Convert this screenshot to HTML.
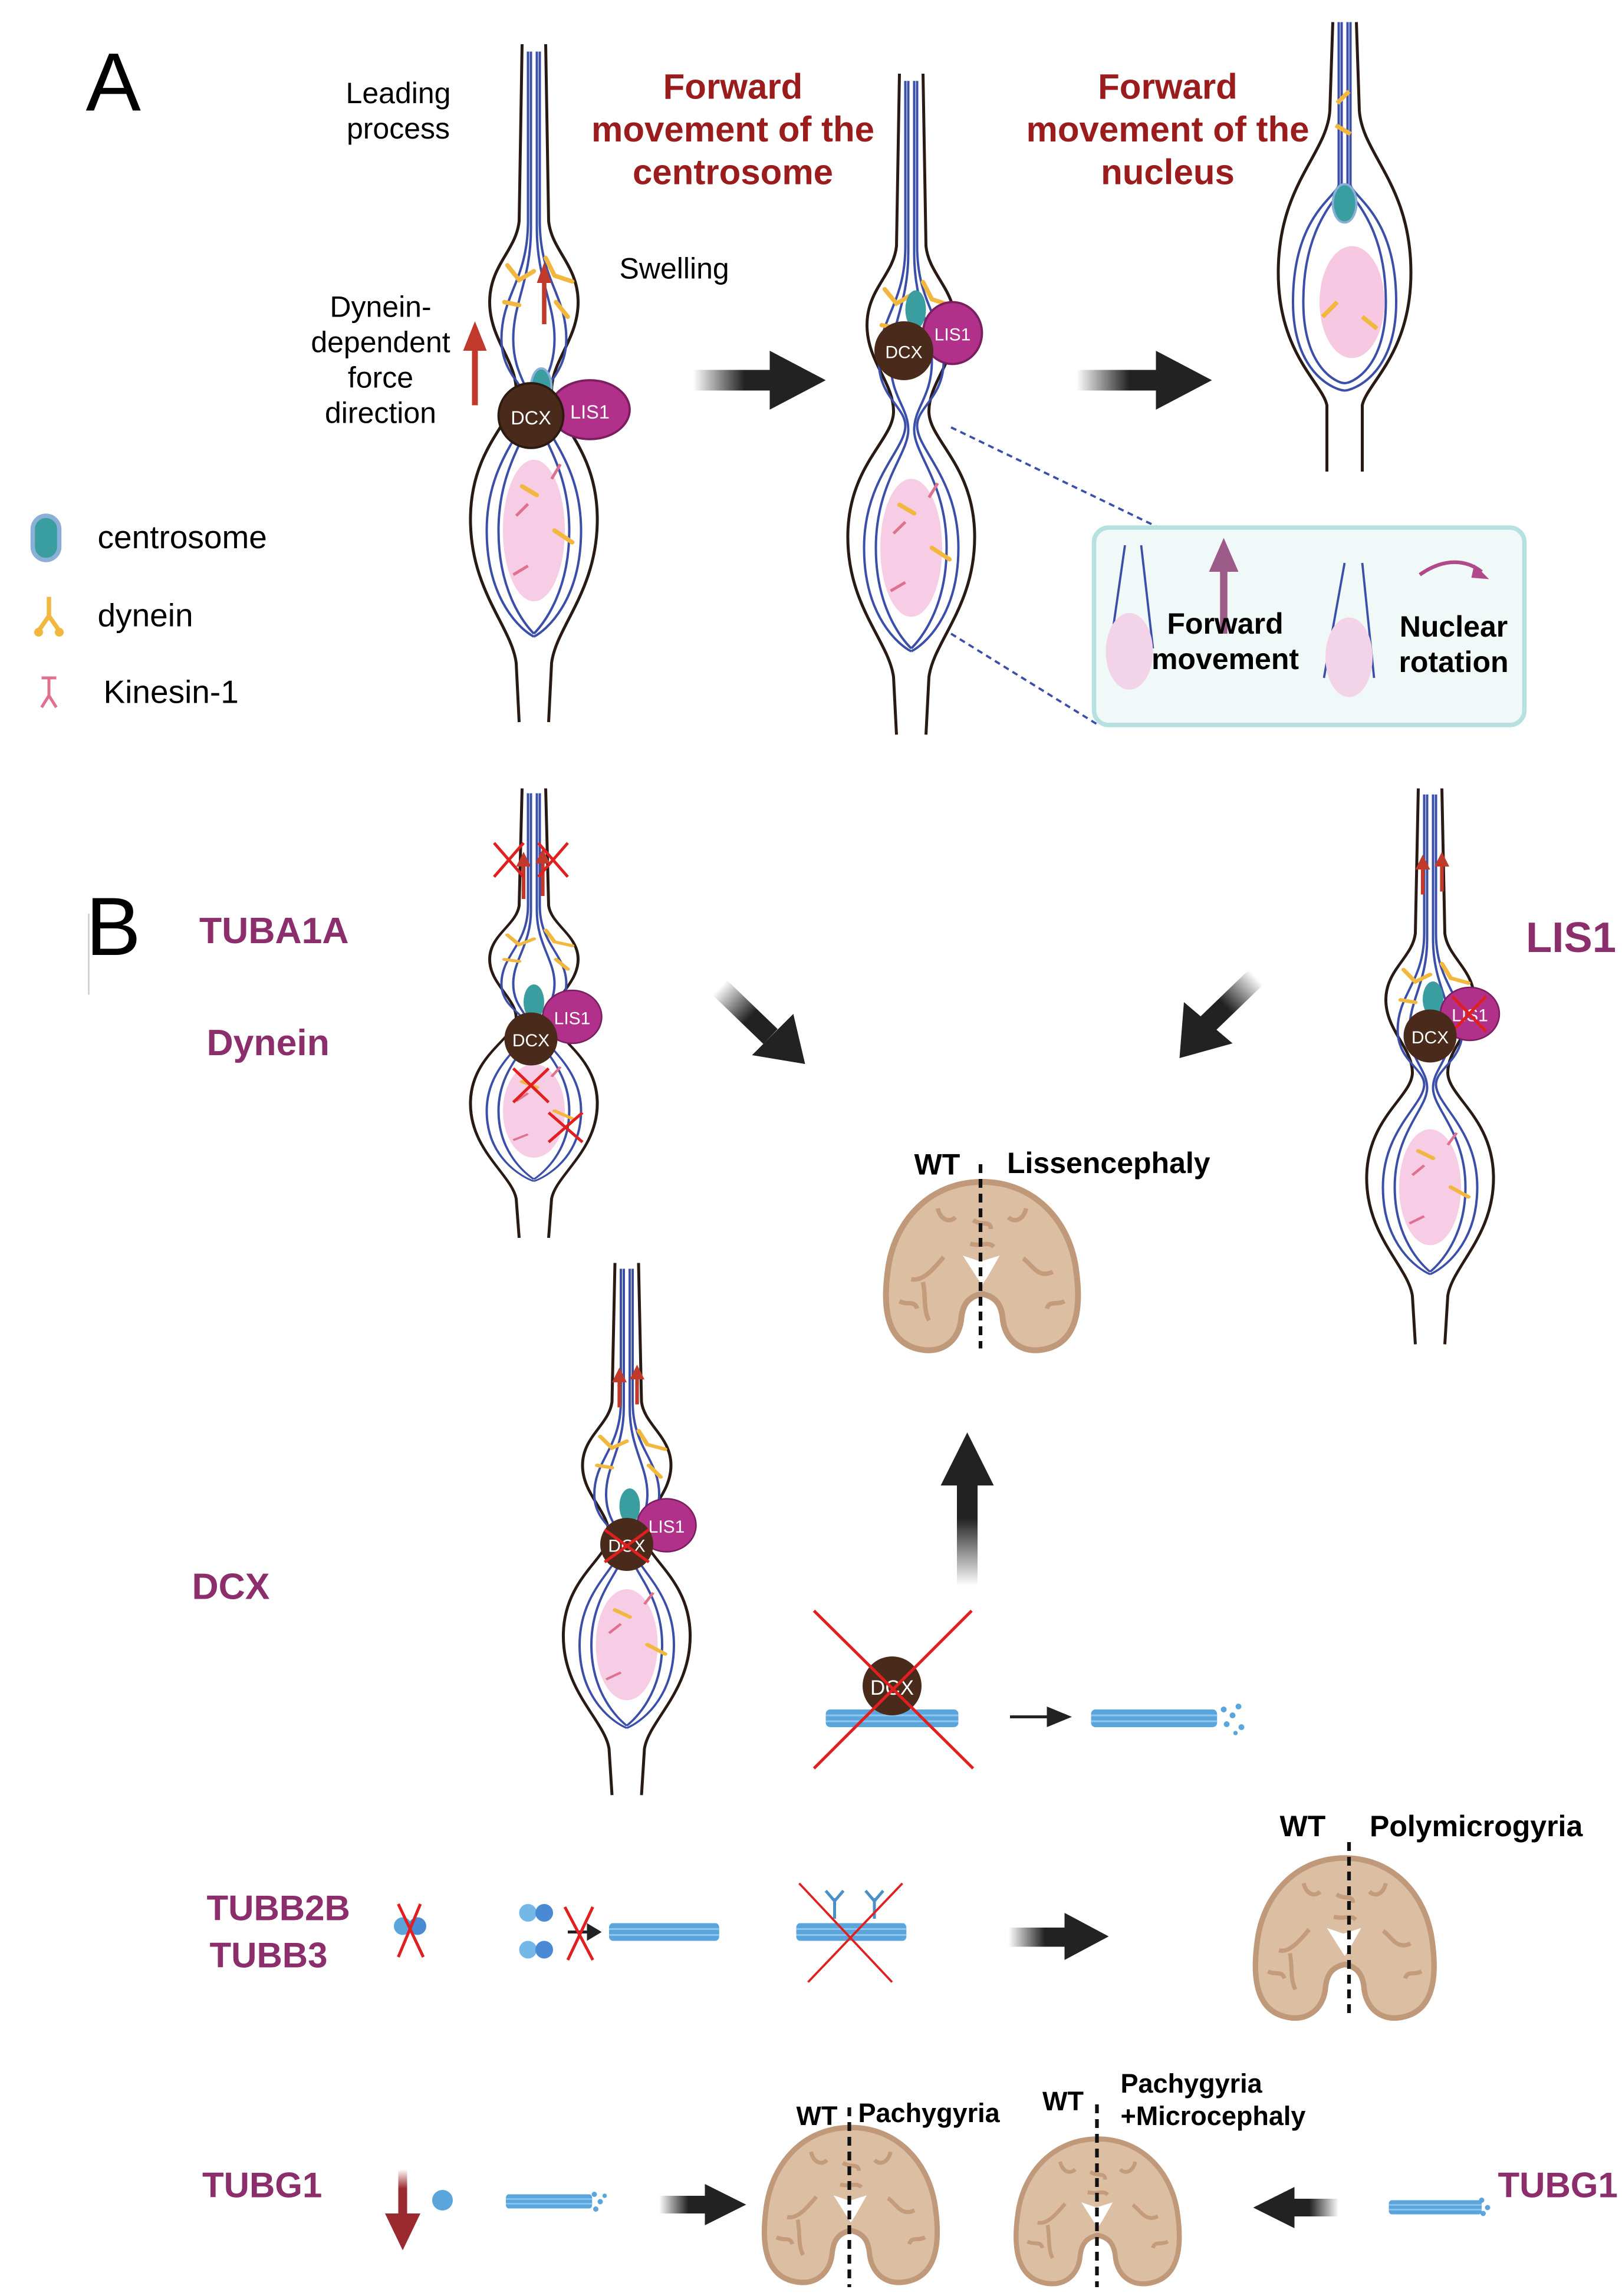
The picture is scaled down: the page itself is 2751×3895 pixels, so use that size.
<!DOCTYPE html>
<html><head><meta charset="utf-8"><style>
html,body{margin:0;padding:0;background:#fff;}
svg{display:block;}
text{font-family:"Liberation Sans",sans-serif;}
</style></head><body>
<svg width="2751" height="3895" viewBox="0 0 1100 1558" xmlns="http://www.w3.org/2000/svg">
<defs>
<linearGradient id="ga" x1="0" x2="1" y1="0" y2="0"><stop offset="0" stop-color="#222" stop-opacity="0"/><stop offset="0.6" stop-color="#222"/></linearGradient>
<linearGradient id="gl" x1="1" x2="0" y1="0" y2="0"><stop offset="0" stop-color="#222" stop-opacity="0"/><stop offset="0.6" stop-color="#222"/></linearGradient>
<linearGradient id="gu" x1="0" x2="0" y1="1" y2="0"><stop offset="0" stop-color="#222" stop-opacity="0"/><stop offset="0.6" stop-color="#222"/></linearGradient>
<linearGradient id="gd" x1="0" x2="0" y1="0" y2="1"><stop offset="0" stop-color="#9b2a30" stop-opacity="0"/><stop offset="0.4" stop-color="#9b2a30"/></linearGradient>
<g id="half">
 <path d="M-8,0 L-10,120 C-12,140 -30,150 -30,175 C-30,200 -12,215 -12,235 C-12,255 -42,272 -43,320 C-44,370 -15,395 -12,420 L-10,460" fill="none" stroke="#2a1a14" stroke-width="2"/>
 <path d="M-4,5 L-4,120 C-4,160 -22,170 -22,200 C-22,225 -4,232 -4,245 C-4,262 -32,282 -32,330 C-32,378 -8,398 0,402" fill="none" stroke="#3b4fa8" stroke-width="1.6"/>
 <path d="M-2,5 L-2,125 C-2,160 -14,175 -14,200 C-14,225 -2,232 -2,248 C-2,265 -24,285 -24,330 C-24,372 -6,394 0,400" fill="none" stroke="#3b4fa8" stroke-width="1.6"/>
</g>
<g id="neuron">
 <use href="#half"/><use href="#half" transform="scale(-1,1)"/>
 <ellipse cx="0" cy="330" rx="21" ry="48" fill="#f6c8e2" opacity="0.9"/>
 <path d="M-18,150 l8,10 l10,-6 M8,145 l6,12 l12,4 M-20,175 l10,2 M15,175 l8,10 M-8,300 l10,6 M14,330 l12,8" stroke="#f2b73e" stroke-width="3" fill="none" stroke-linecap="round"/>
 <path d="M-12,320 l8,-8 M-14,360 l10,-6 M12,295 l6,-10" stroke="#e07090" stroke-width="2" fill="none"/>
</g>
<g id="brain">
 <path d="M70,4 C35,4 10,30 6,65 C2,95 8,115 30,118 C45,120 55,110 56,96 C57,88 60,82 70,80 C80,82 83,88 84,96 C85,110 95,120 110,118 C132,115 138,95 134,65 C130,30 105,4 70,4 Z" fill="#dcbea3" stroke="#c0987a" stroke-width="4"/>
 <path d="M22,70 C30,72 38,62 44,55 M30,72 C32,82 30,90 34,98 M118,65 C108,70 104,60 98,56 M40,22 C42,30 48,32 52,28 M100,22 C98,30 92,32 88,28 M64,30 C70,34 76,30 76,36 M62,46 C70,48 74,44 78,48 M14,85 C20,88 24,84 26,90 M126,85 C120,88 116,84 114,90" stroke="#c49b7b" stroke-width="3" fill="none"/>
 <path d="M57,54 L69,58 L82,54 L74,68 L70,74 L66,68 Z" fill="#fff"/>
</g>
<g id="mt">
 <rect x="0" y="0" width="90" height="12" rx="3" fill="#5aa6dc"/>
 <path d="M0,4 H90 M0,8 H90" stroke="#8fc6ee" stroke-width="1.2"/>
</g>
</defs>
<rect width="1100" height="1558" fill="#fff"/>

<!-- Panel A -->
<text x="58" y="75" font-size="56">A</text>
<text x="270" y="70" font-size="20" text-anchor="middle">Leading</text>
<text x="270" y="94" font-size="20" text-anchor="middle">process</text>
<g font-size="24" font-weight="bold" fill="#9b1c1c" text-anchor="middle">
<text x="497" y="67">Forward</text><text x="497" y="96">movement of the</text><text x="497" y="125">centrosome</text>
<text x="792" y="67">Forward</text><text x="792" y="96">movement of the</text><text x="792" y="125">nucleus</text>
</g>
<text x="420" y="189" font-size="20">Swelling</text>
<g font-size="20" text-anchor="middle"><text x="258" y="215">Dynein-</text><text x="258" y="239">dependent</text><text x="258" y="263">force</text><text x="258" y="287">direction</text></g>
<path d="M322,275 V235" stroke="#c0392b" stroke-width="4"/><path d="M314,238 L322,218 L330,238 Z" fill="#c0392b"/>

<use href="#neuron" transform="translate(362,30)"/>
<path d="M369,220 V190" stroke="#c0392b" stroke-width="3"/><path d="M364,192 L369,178 L374,192 Z" fill="#c0392b"/>
<ellipse cx="367" cy="263" rx="7" ry="13" fill="#3a9ea0" stroke="#8ab0d8" stroke-width="1.5"/>
<ellipse cx="400" cy="278" rx="27" ry="20" fill="#b0308a" stroke="#7a1e60" stroke-width="1.5"/>
<text x="400" y="284" font-size="13" fill="#fff" text-anchor="middle">LIS1</text>
<circle cx="360" cy="282" r="22" fill="#4a2a1a" stroke="#2a1a10" stroke-width="1.5"/>
<text x="360" y="288" font-size="13" fill="#fff" text-anchor="middle">DCX</text>

<use href="#neuron" transform="translate(618,50) scale(1,0.975)"/>
<ellipse cx="621" cy="210" rx="7" ry="13" fill="#3a9ea0"/>
<ellipse cx="646" cy="226" rx="20" ry="21" fill="#b0308a" stroke="#7a1e60" stroke-width="1.5"/>
<text x="646" y="231" font-size="12" fill="#fff" text-anchor="middle">LIS1</text>
<circle cx="613" cy="238" r="20" fill="#4a2a1a"/>
<text x="613" y="243" font-size="12" fill="#fff" text-anchor="middle">DCX</text>

<g transform="translate(912,15)">
<path d="M-8,0 L-10,60 C-12,90 -45,110 -45,170 C-45,225 -15,245 -12,260 L-12,305 M8,0 L10,60 C12,90 45,110 45,170 C45,225 15,245 12,260 L12,305" fill="none" stroke="#2a1a14" stroke-width="2"/>
<path d="M-4,0 V110 C-4,118 -35,130 -35,190 C-35,240 -5,250 0,250 C5,250 35,240 35,190 C35,130 4,118 4,110 V0 M-2,0 V112 C-2,118 -28,135 -28,190 C-28,235 -5,245 0,245 C5,245 28,235 28,190 C28,135 2,118 2,112 V0" fill="none" stroke="#3b4fa8" stroke-width="1.6"/>
<ellipse cx="5" cy="190" rx="22" ry="38" fill="#f6c8e2"/>
<ellipse cx="0" cy="123" rx="8" ry="13" fill="#3a9ea0" stroke="#8ab0d8" stroke-width="1.5"/>
<path d="M-5,55 l8,-8 M-6,70 l10,6 M-15,200 l10,-10 M12,200 l10,8" stroke="#f2b73e" stroke-width="3" fill="none"/>
</g>

<!-- A arrows -->
<rect x="470" y="251" width="58" height="14" fill="url(#ga)"/><path d="M522,238 L560,258 L522,278 Z" fill="#222"/>
<rect x="730" y="251" width="60" height="14" fill="url(#ga)"/><path d="M784,238 L822,258 L784,278 Z" fill="#222"/>

<!-- zoom box -->
<path d="M645,290 L790,360 M645,430 L745,492" stroke="#3b4fa8" stroke-width="1.5" stroke-dasharray="4,3"/>
<rect x="742" y="358" width="292" height="134" rx="10" fill="#f1f8f8" stroke="#b7e0e0" stroke-width="3"/>
<path d="M763,370 L753,440 M774,370 L782,440 M912,382 L898,460 M924,382 L932,460" stroke="#3b4fa8" stroke-width="1.5"/>
<ellipse cx="766" cy="442" rx="16" ry="26" fill="#f2d3e8"/><ellipse cx="915" cy="446" rx="16" ry="27" fill="#f2d3e8"/>
<path d="M830,430 V385" stroke="#9c5a88" stroke-width="5"/><path d="M820,388 L830,365 L840,388 Z" fill="#9c5a88"/>
<path d="M963,390 C980,378 995,380 1005,388" stroke="#b04a8a" stroke-width="2.5" fill="none"/><path d="M1000,383 L1010,393 L998,392 Z" fill="#b04a8a"/>
<g font-size="20" font-weight="bold" text-anchor="middle"><text x="831" y="430">Forward</text><text x="831" y="454">movement</text><text x="986" y="432">Nuclear</text><text x="986" y="456">rotation</text></g>

<!-- legend -->
<rect x="22" y="350" width="18" height="30" rx="9" fill="#3a9ea0" stroke="#8ab0d8" stroke-width="3"/>
<text x="66" y="372" font-size="22">centrosome</text>
<path d="M33,405 V418 L26,428 M33,418 L40,428" stroke="#f2b73e" stroke-width="3" fill="none"/><circle cx="26" cy="429" r="3" fill="#f2b73e"/><circle cx="40" cy="429" r="3" fill="#f2b73e"/>
<text x="66" y="425" font-size="22">dynein</text>
<path d="M28,460 H38 M33,460 V472 L28,480 M33,472 L38,480" stroke="#e07090" stroke-width="2" fill="none"/>
<text x="70" y="477" font-size="22">Kinesin-1</text>

<!-- Panel B -->
<text x="58" y="648" font-size="56">B</text>
<path d="M60,620 V675" stroke="#ccc" stroke-width="1"/>
<g font-weight="bold" fill="#8b2e6b" font-size="25">
<text x="135" y="640">TUBA1A</text><text x="140" y="716">Dynein</text>
<text x="1035" y="646" font-size="29">LIS1</text>
<text x="130" y="1085">DCX</text>
<text x="140" y="1303" font-size="24">TUBB2B</text><text x="142" y="1335" font-size="24">TUBB3</text>
<text x="137" y="1491" font-size="24">TUBG1</text>
<text x="1016" y="1491" font-size="24">TUBG1</text>
</g>

<use href="#neuron" transform="translate(362,535) scale(1,0.663)"/>
<path d="M355,610 V585 M368,608 V583" stroke="#c0392b" stroke-width="2.5"/>
<path d="M350,588 L355,578 L360,588 Z M363,586 L368,576 L373,586 Z" fill="#c0392b"/>
<path d="M335,572 L355,595 M355,572 L335,595 M365,572 L385,595 M385,572 L365,595 M348,725 L372,748 M372,725 L348,748 M372,755 L395,775 M395,755 L372,775" stroke="#e02020" stroke-width="2"/>
<ellipse cx="362" cy="680" rx="7" ry="12" fill="#3a9ea0"/>
<ellipse cx="388" cy="690" rx="20" ry="18" fill="#b0308a" stroke="#7a1e60"/>
<text x="388" y="695" font-size="12" fill="#fff" text-anchor="middle">LIS1</text>
<circle cx="360" cy="705" r="18" fill="#4a2a1a"/>
<text x="360" y="710" font-size="12" fill="#fff" text-anchor="middle">DCX</text>

<use href="#neuron" transform="translate(970,535) scale(1,0.82)"/>
<path d="M965,607 V587 M978,605 V585" stroke="#c0392b" stroke-width="2.5"/>
<path d="M960,590 L965,580 L970,590 Z M973,588 L978,578 L983,588 Z" fill="#c0392b"/>
<ellipse cx="972" cy="678" rx="7" ry="12" fill="#3a9ea0"/>
<ellipse cx="997" cy="688" rx="20" ry="18" fill="#b0308a" stroke="#7a1e60"/>
<text x="997" y="693" font-size="12" fill="#fff" text-anchor="middle">LIS1</text>
<path d="M985,676 L1008,700 M1008,676 L985,700" stroke="#e02020" stroke-width="2"/>
<circle cx="970" cy="703" r="18" fill="#4a2a1a"/>
<text x="970" y="708" font-size="12" fill="#fff" text-anchor="middle">DCX</text>

<use href="#neuron" transform="translate(425,857) scale(1,0.785)"/>
<path d="M420,955 V935 M432,953 V933" stroke="#c0392b" stroke-width="2.5"/>
<path d="M415,938 L420,928 L425,938 Z M427,936 L432,926 L437,936 Z" fill="#c0392b"/>
<ellipse cx="427" cy="1022" rx="7" ry="12" fill="#3a9ea0"/>
<ellipse cx="452" cy="1035" rx="20" ry="18" fill="#b0308a" stroke="#7a1e60"/>
<text x="452" y="1040" font-size="12" fill="#fff" text-anchor="middle">LIS1</text>
<circle cx="425" cy="1048" r="18" fill="#4a2a1a"/>
<text x="425" y="1053" font-size="12" fill="#fff" text-anchor="middle">DCX</text>
<path d="M410,1038 L440,1060 M440,1038 L410,1060" stroke="#e02020" stroke-width="2"/>

<!-- arrows to lissencephaly -->
<g transform="translate(488,670) rotate(44)"><rect x="0" y="-7" width="48" height="14" fill="url(#ga)"/></g>
<path d="M510,716 L546,722 L538,688 Z" fill="#222"/>
<g transform="translate(852,663) rotate(136)"><rect x="0" y="-7" width="48" height="14" fill="url(#ga)"/></g>
<path d="M803,680 L800,718 L836,708 Z" fill="#222"/>
<rect x="649" y="1000" width="14" height="76" fill="url(#gu)"/>
<path d="M638,1008 L656,972 L674,1008 Z" fill="#222"/>

<use href="#brain" transform="translate(596,798)"/>
<path d="M665,790 V915" stroke="#111" stroke-width="2.5" stroke-dasharray="6,4"/>
<text x="620" y="797" font-size="20" font-weight="bold">WT</text>
<text x="683" y="796" font-size="20" font-weight="bold">Lissencephaly</text>

<use href="#mt" transform="translate(560,1160)"/>
<circle cx="605" cy="1144" r="20" fill="#4a2a1a"/>
<text x="605" y="1150" font-size="14" fill="#fff" text-anchor="middle">DCX</text>
<path d="M552,1093 L660,1200 M659,1093 L552,1200" stroke="#e02020" stroke-width="2"/>
<path d="M685,1165 H712" stroke="#222" stroke-width="2"/><path d="M710,1158 L727,1165 L710,1172 Z" fill="#222"/>
<use href="#mt" transform="translate(740,1160) scale(0.95,1)"/>
<g fill="#5aa6dc"><circle cx="830" cy="1160" r="2"/><circle cx="836" cy="1164" r="2"/><circle cx="832" cy="1170" r="2"/><circle cx="840" cy="1158" r="2"/><circle cx="842" cy="1172" r="2"/><circle cx="838" cy="1176" r="1.5"/></g>

<circle cx="273" cy="1307" r="6" fill="#5aa6dc"/><circle cx="283" cy="1307" r="6" fill="#4a8ad4"/>
<path d="M270,1292 L287,1328 M285,1292 L270,1328" stroke="#e02020" stroke-width="2"/>
<circle cx="358" cy="1298" r="6" fill="#74b8e8"/><circle cx="369" cy="1298" r="6" fill="#4a8ad4"/>
<circle cx="358" cy="1323" r="6" fill="#74b8e8"/><circle cx="369" cy="1323" r="6" fill="#4a8ad4"/>
<path d="M385,1311 H400" stroke="#222" stroke-width="2"/><path d="M398,1305 L408,1311 L398,1317 Z" fill="#222"/>
<path d="M383,1294 L402,1330 M402,1294 L385,1330" stroke="#e02020" stroke-width="2"/>
<use href="#mt" transform="translate(413,1305) scale(0.83,1)"/>
<use href="#mt" transform="translate(540,1305) scale(0.83,1)"/>
<path d="M566,1302 V1288 M560,1283 L566,1290 L572,1283 M593,1302 V1288 M587,1283 L593,1290 L599,1283" stroke="#4a90c8" stroke-width="2" fill="none"/>
<path d="M542,1278 L605,1345 M612,1278 L548,1345" stroke="#e02020" stroke-width="1.5"/>
<rect x="684" y="1308" width="41" height="13" fill="url(#ga)"/><path d="M722,1298 L752,1314 L722,1330 Z" fill="#222"/>
<use href="#brain" transform="translate(847,1257) scale(0.93,0.95)"/>
<path d="M915,1250 V1370" stroke="#111" stroke-width="2.5" stroke-dasharray="6,4"/>
<text x="868" y="1246" font-size="20" font-weight="bold">WT</text>
<text x="929" y="1246" font-size="20" font-weight="bold">Polymicrogyria</text>

<rect x="270" y="1472" width="6" height="33" fill="url(#gd)"/><path d="M261,1502 L273,1527 L285,1502 Z" fill="#9b2a30"/>
<circle cx="300" cy="1493" r="7" fill="#5aa6dc"/>
<use href="#mt" transform="translate(343,1489) scale(0.65,0.8)"/>
<g fill="#5aa6dc"><circle cx="403" cy="1489" r="1.8"/><circle cx="407" cy="1494" r="1.8"/><circle cx="404" cy="1499" r="1.8"/><circle cx="410" cy="1490" r="1.5"/></g>
<rect x="447" y="1490" width="33" height="12" fill="url(#ga)"/><path d="M478,1482 L506,1496 L478,1510 Z" fill="#222"/>
<use href="#brain" transform="translate(514,1440) scale(0.9,0.92)"/>
<path d="M576,1430 V1552" stroke="#111" stroke-width="2.5" stroke-dasharray="6,4"/>
<text x="540" y="1442" font-size="18" font-weight="bold">WT</text>
<text x="582" y="1440" font-size="18" font-weight="bold">Pachygyria</text>
<use href="#brain" transform="translate(685,1448) scale(0.85,0.86)"/>
<path d="M744,1428 V1552" stroke="#111" stroke-width="2.5" stroke-dasharray="6,4"/>
<text x="707" y="1432" font-size="18" font-weight="bold">WT</text>
<text x="760" y="1420" font-size="18" font-weight="bold">Pachygyria</text>
<text x="760" y="1442" font-size="18" font-weight="bold">+Microcephaly</text>
<rect x="875" y="1492" width="33" height="12" fill="url(#gl)"/><path d="M878,1484 L850,1498 L878,1512 Z" fill="#222"/>
<use href="#mt" transform="translate(942,1493) scale(0.7,0.8)"/>
<g fill="#5aa6dc"><circle cx="1005" cy="1493" r="1.8"/><circle cx="1009" cy="1498" r="1.8"/><circle cx="1006" cy="1502" r="1.8"/></g>
</svg>
</body></html>
